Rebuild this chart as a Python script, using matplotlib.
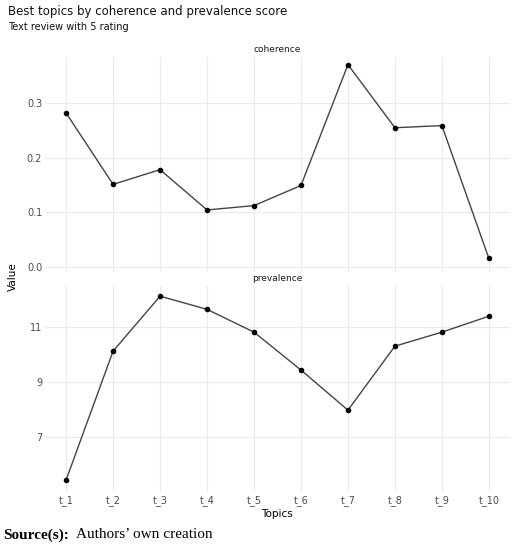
import matplotlib.pyplot as plt

topics = [f"t_{i}" for i in range(1, 11)]
coherence = [0.282, 0.151, 0.178, 0.104, 0.112, 0.149, 0.371, 0.255, 0.259, 0.015]
prevalence = [5.44, 10.13, 12.13, 11.65, 10.82, 9.44, 7.98, 10.31, 10.82, 11.40]

fig = plt.figure(figsize=(5.2, 5.47), dpi=100)
W, H = 520, 547
def ax_at(x0, y0, x1, y1):
    return fig.add_axes([x0 / W, 1 - y1 / H, (x1 - x0) / W, (y1 - y0) / H])

ax1 = ax_at(45, 57, 510, 272)
ax2 = ax_at(45, 286, 510, 492)
x = list(range(len(topics)))
for ax, vals, title in [(ax1, coherence, "coherence"), (ax2, prevalence, "prevalence")]:
    ax.plot(x, vals, color="#444444", lw=1.0, marker="o", ms=3, mfc="black", mec="black")
    ax.set_xlim(-0.45, 9.45)
    for s in ax.spines.values():
        s.set_visible(False)
    ax.grid(True, color="#ebebeb", lw=0.8)
    ax.tick_params(length=0, labelsize=7, colors="#4d4d4d", pad=2)
    ax.set_xticks(x)
    fig.text((ax.get_position().x0 + ax.get_position().x1) / 2, ax.get_position().y1 + 0.006,
             title, ha="center", va="bottom", fontsize=6.5, color="#1a1a1a")

ax1.set_ylim(-0.01, 0.385)
ax1.set_yticks([0.0, 0.1, 0.2, 0.3])
ax1.set_xticklabels([])
ax2.set_ylim(5.0, 12.5)
ax2.set_yticks([7, 9, 11])
ax2.set_xticklabels(topics)

fig.text(8 / W, 1 - 5 / H, "Best topics by coherence and prevalence score", fontsize=8.5,
         va="top", color="#111111")
fig.text(8 / W, 1 - 22 / H, "Text review with 5 rating", fontsize=7, va="top", color="#111111")
fig.text(8 / W, 1 - 277 / H, "Value", rotation=90, fontsize=7.5, va="center", ha="left")
fig.text(277 / W, 1 - 514 / H, "Topics", fontsize=7.5, ha="center", va="center")
fig.text(3 / W, 1 - 535 / H, "Source(s):", fontsize=11, fontweight="bold",
         family="Liberation Serif", va="center")
fig.text(76 / W, 1 - 535 / H, "Authors\u2019 own creation", fontsize=11,
         family="Liberation Serif", va="center")

fig.savefig("out.png", dpi=100)
